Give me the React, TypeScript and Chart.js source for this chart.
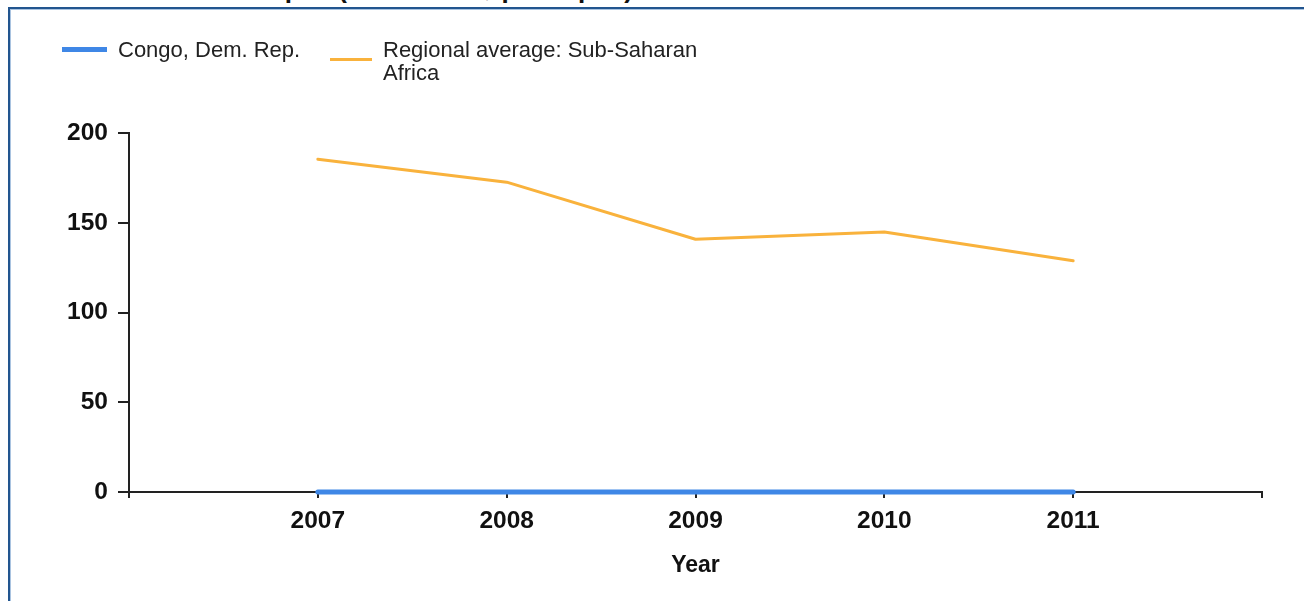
import React, { useEffect, useRef } from "react";
import { Chart, registerables } from "chart.js";

Chart.register(...registerables);

// ---- data ----
const years = [2007, 2008, 2009, 2010, 2011];
const congoValues = [0, 0, 0, 0, 0];
const regionalValues = [185.4, 172.6, 140.8, 144.8, 128.8];
const seriesLabels = ["Congo, Dem. Rep.", "Regional average: Sub-Saharan Africa"];
const seriesColors = ["#3f87e6", "#f9b23c"];
const yTickValues = [0, 50, 100, 150, 200];
const xAxisTitle = "Year";
const chartTitle = "Total health care cost / capita (current US$ per capita)";

const FONT = "'Liberation Sans', Arial, sans-serif";
const W = 1304;
const H = 601;

export default function App() {
  const canvasRef = useRef<HTMLCanvasElement | null>(null);

  useEffect(() => {
    const canvas = canvasRef.current;
    if (!canvas) return;
    const chart = new Chart(canvas, {
      type: "line",
      data: {
        datasets: [
          {
            label: seriesLabels[0],
            data: years.map((x, i) => ({ x, y: congoValues[i] })),
            borderColor: seriesColors[0],
            backgroundColor: seriesColors[0],
            borderWidth: 5,
            pointRadius: 0,
            borderCapStyle: "round",
            borderJoinStyle: "round",
            tension: 0,
            clip: false,
          },
          {
            label: seriesLabels[1],
            data: years.map((x, i) => ({ x, y: regionalValues[i] })),
            borderColor: seriesColors[1],
            backgroundColor: seriesColors[1],
            borderWidth: 3,
            pointRadius: 0,
            borderCapStyle: "round",
            borderJoinStyle: "round",
            tension: 0,
            clip: false,
          },
        ],
      },
      options: {
        responsive: false,
        animation: false,
        devicePixelRatio: 1,
        layout: { padding: { left: 0, top: 133, right: 42, bottom: 0 } },
        plugins: { legend: { display: false }, tooltip: { enabled: false } },
        scales: {
          x: {
            type: "linear",
            min: years[0] - 1,
            max: years[years.length - 1] + 1,
            z: 1,
            ticks: {
              stepSize: 1,
              autoSkip: false,
              maxRotation: 0,
              padding: 9,
              color: "#111",
              font: { family: FONT, size: 24.5, weight: "bold" },
              callback: (v: any) => (years.includes(Number(v)) ? String(v) : ""),
            },
            grid: {
              drawOnChartArea: false,
              drawTicks: true,
              tickLength: 6,
              color: "#222",
              lineWidth: 2,
            },
            border: { display: true, color: "#222", width: 2 },
            title: {
              display: true,
              text: xAxisTitle,
              color: "#111",
              font: { family: FONT, size: 23, weight: "bold" },
              padding: { top: 0, bottom: 22 },
            },
            afterFit: (s: any) => {
              s.height = 109;
            },
          },
          y: {
            min: yTickValues[0],
            max: yTickValues[yTickValues.length - 1],
            ticks: {
              stepSize: yTickValues[1] - yTickValues[0],
              padding: 10,
              color: "#111",
              font: { family: FONT, size: 24.5, weight: "bold" },
            },
            grid: {
              drawOnChartArea: false,
              drawTicks: true,
              tickLength: 11,
              color: "#222",
              lineWidth: 2,
            },
            border: { display: true, color: "#222", width: 2 },
            afterFit: (s: any) => {
              s.width = 129;
            },
          },
        },
      },
    } as any);
    return () => chart.destroy();
  }, []);

  return (
    <div
      style={{
        position: "absolute",
        left: 0,
        top: 0,
        width: W,
        height: H,
        overflow: "hidden",
        background: "#fff",
        fontFamily: FONT,
      }}
    >
      <span
        style={{
          position: "absolute",
          right: W - 633,
          top: -24,
          fontSize: 26,
          lineHeight: "26px",
          fontWeight: "bold",
          color: "#111",
          whiteSpace: "nowrap",
        }}
      >
        {chartTitle}
      </span>
      <div
        style={{
          position: "absolute",
          left: 8,
          top: 7,
          width: W + 20,
          height: H + 20,
          borderTop: "2px solid #22558f",
          borderLeft: "2px solid #22558f",
          boxShadow: "inset 1px 1px 0 #a9c3e0",
          boxSizing: "border-box",
          background: "#fff",
        }}
      />
      <canvas
        ref={canvasRef}
        width={W}
        height={H}
        style={{ position: "absolute", left: 0, top: 0, width: W, height: H }}
      />
      {/* legend */}
      <div style={{ position: "absolute", left: 62, top: 47, width: 45, height: 5, background: seriesColors[0] }} />
      <div
        style={{
          position: "absolute",
          left: 118,
          top: 38,
          fontSize: 22,
          lineHeight: "23px",
          color: "#222",
          whiteSpace: "nowrap",
        }}
      >
        {seriesLabels[0]}
      </div>
      <div style={{ position: "absolute", left: 330, top: 58, width: 42, height: 3, background: seriesColors[1] }} />
      <div
        style={{
          position: "absolute",
          left: 383,
          top: 38,
          width: 330,
          fontSize: 22,
          lineHeight: "23px",
          color: "#222",
        }}
      >
        {seriesLabels[1]}
      </div>
    </div>
  );
}
